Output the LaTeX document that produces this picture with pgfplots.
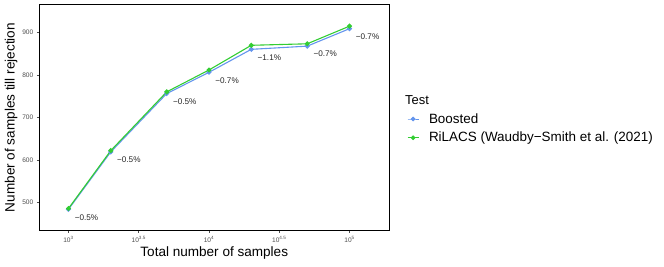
\documentclass[border=0pt]{standalone}
\usepackage{pgfplots}
\pgfplotsset{compat=1.18}
\usepackage{fontspec}
\setmainfont{Liberation Sans}
\definecolor{cblue}{HTML}{6495ED}
\definecolor{cgreen}{HTML}{32CD32}
\definecolor{tickgrey}{HTML}{4D4D4D}
\begin{document}
\begin{tikzpicture}[x=1bp,y=1bp]
\useasboundingbox (0,0) rectangle (664,266);
\begin{axis}[
  at={(39.5bp,36bp)}, anchor=south west,
  scale only axis, width=349.5bp, height=225bp,
  xmode=log, xmin=622, xmax=191000, ymin=435.4, ymax=964.2,
  xtick={1000,3162.2777,10000,31622.777,100000},
  xticklabels={10\textsuperscript{3},10\textsuperscript{3.5},10\textsuperscript{4},10\textsuperscript{4.5},10\textsuperscript{5}},
  minor xtick={},
  ytick={500,600,700,800,900},
  /pgf/number format/assume math mode=true,
  tick label style={font=\fontsize{6.6}{7.5}\selectfont, text=tickgrey},
  tick align=outside, xtick pos=bottom, ytick pos=left,
  major tick length=2.75bp,
  tick style={tickgrey, line width=0.5bp},
  axis line style={black, line width=1bp},
  xlabel={Total number of samples},
  ylabel={Number of samples till rejection},
  label style={font=\fontsize{13.6}{16}\selectfont},
  xlabel style={at={(axis description cs:0.5,-0.1022)}, anchor=center},
  ylabel style={at={(axis description cs:-0.0815,0.5)}, anchor=center},
  legend style={at={(axis description cs:1.0515,0.528)}, anchor=north west, draw=none, fill=none,
    font=\fontsize{13.5}{16}\selectfont, inner sep=0pt, row sep=3.5bp,
    /tikz/every odd column/.append style={column sep=8bp}},
  legend cell align=left,
  legend image code/.code={\draw[mark repeat=2,mark phase=2,#1,line width=0.8bp] plot coordinates {(0bp,0bp) (5.5bp,0bp) (11bp,0bp)};},
]
\addplot[cblue, line width=1.1bp, mark=*, mark size=1.9bp, mark options={solid, fill=cblue, draw=cblue},
  nodes near coords, point meta=explicit symbolic,
  every node near coord/.append style={anchor=west, xshift=2.5bp, yshift=-8bp, font=\fontsize{8.2}{9}\selectfont, text=black!85}]
  coordinates {
  (1000,484) [{−0.5\%}]
  (2000,619) [{−0.5\%}]
  (5000,756) [{−0.5\%}]
  (10000,806) [{−0.7\%}]
  (20000,860) [{−1.1\%}]
  (50000,867.5) [{−0.7\%}]
  (100000,908.5) [{−0.7\%}]
  };
\addlegendentry{Boosted}
\addplot[cgreen, line width=1.1bp, mark=*, mark size=1.9bp, mark options={solid, fill=cgreen, draw=cgreen}]
  coordinates {
  (1000,486)
  (2000,622)
  (5000,760)
  (10000,811.5)
  (20000,869.5)
  (50000,873)
  (100000,914.5)
  };
\addlegendentry{RiLACS (Waudby−Smith et al. (2021)}
\end{axis}
\node[anchor=west, font=\fontsize{13}{15}\selectfont, inner sep=0pt] at (405,166) {Test};
\end{tikzpicture}
\end{document}
